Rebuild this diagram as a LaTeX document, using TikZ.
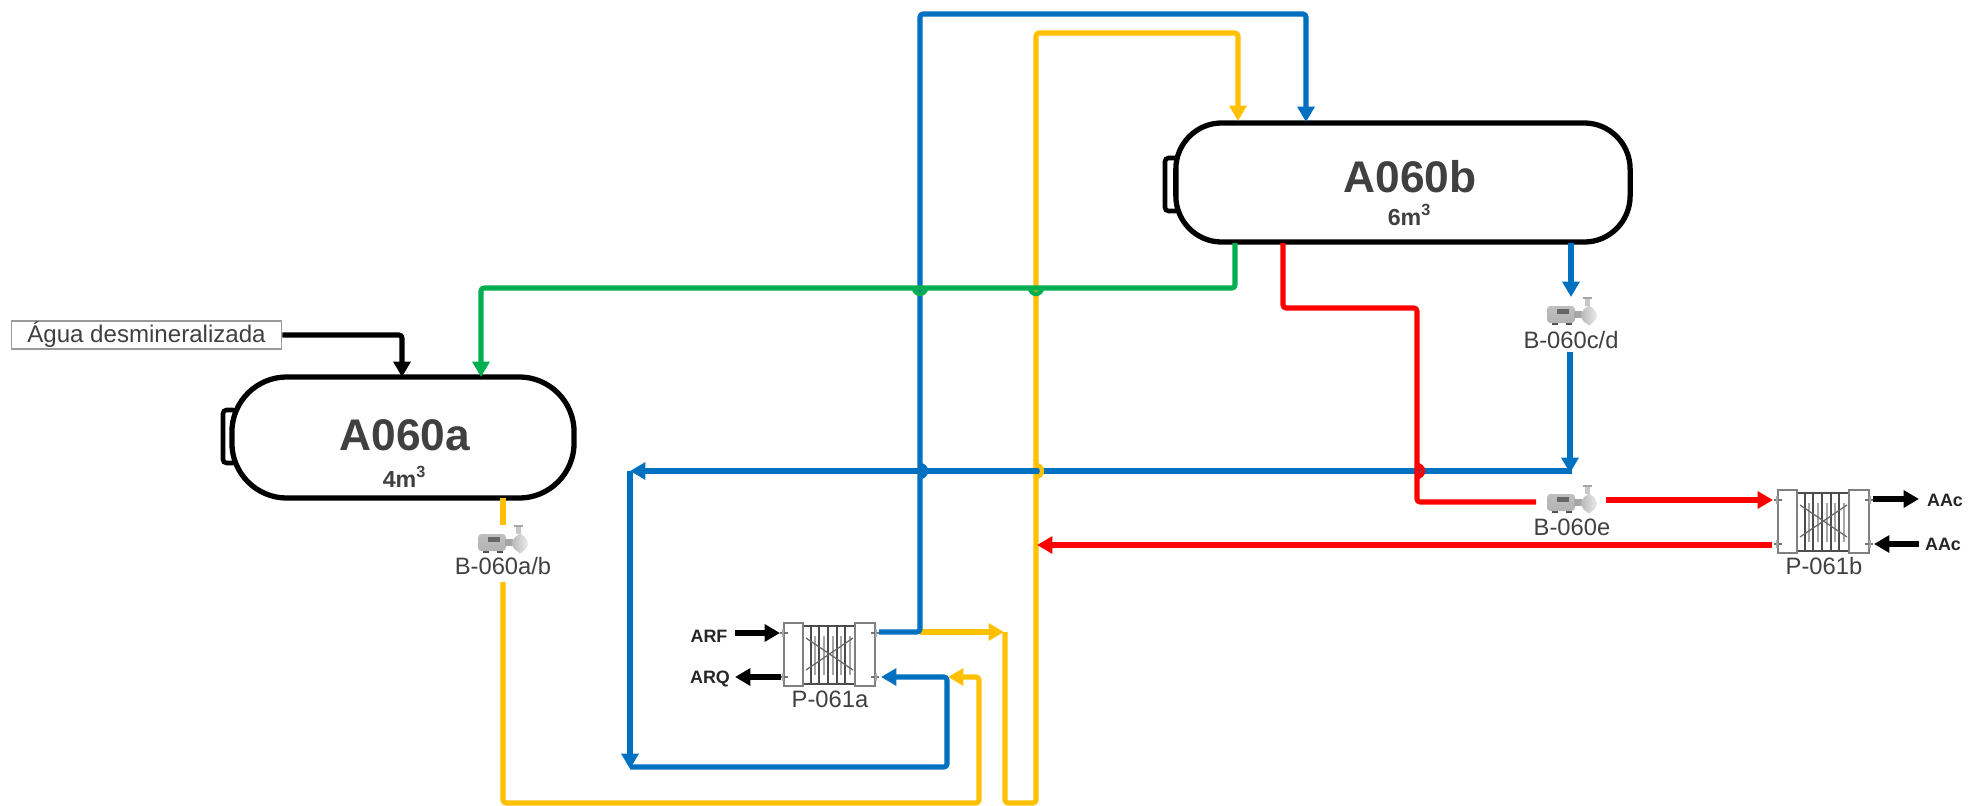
\documentclass[tikz,border=0pt]{standalone}
\usepackage{fontspec}
\setmainfont{Liberation Sans}
\usetikzlibrary{arrows.meta,calc}
\definecolor{cblue}{HTML}{0070C0}
\definecolor{cyellow}{HTML}{FFC000}
\definecolor{cgreen}{HTML}{00B050}
\definecolor{cred}{HTML}{FF0000}
\definecolor{ctext}{HTML}{404040}
\tikzset{
  pipe/.style={line width=1.45pt,rounded corners=0.9pt},
  flow/.style={pipe,-{Triangle[length=4.4pt,width=4.8pt]}},
  bump/.style={line width=1.2pt},
  tank/.style={draw=black,line width=1.5pt,fill=white,inner sep=0pt},
  nub/.style={draw=black,line width=1.3pt,fill=white,rounded corners=1pt},
  tagname/.style={text=ctext,inner sep=0pt,font=\bfseries\fontsize{12.6pt}{14pt}\selectfont},
  tagvol/.style={text=ctext,inner sep=0pt,font=\bfseries\fontsize{6.6pt}{8pt}\selectfont},
  eqlabel/.style={text=ctext,inner sep=0pt,font=\fontsize{6.75pt}{8pt}\selectfont},
  streamlabel/.style={text=black!85,inner sep=0pt,font=\bfseries\fontsize{5.1pt}{6pt}\selectfont},
  srcbox/.style={draw=black!40,line width=0.4pt,fill=white,minimum width=2.7cm,minimum height=0.28cm,inner sep=0pt,text=ctext,font=\fontsize{6.85pt}{8pt}\selectfont},
  pumpicon/.pic={
    \fill[black!70] (5,24) rectangle (11,28);
    \fill[black!70] (19,24) rectangle (25,28);
    \shade[top color=black!25,middle color=black!70,bottom color=black!30,rounded corners=1pt] (0,9) rectangle (28,26);
    \fill[black!60] (10,12) rectangle (22,17);
    \fill[black!35] (27,14) rectangle (35,21);
    \shade[left color=black!28,right color=black!8,rounded corners=3pt] (34,9) rectangle (50,28);
    \fill[black!22] (38,2) rectangle (43,9);
    \fill[black!35] (36,0) rectangle (45,1.5);
  },
  hxicon/.pic={
    \foreach \xl in {31,40,49,57,66}{\draw[black!35,line width=0.7pt] (\xl,13)--(\xl,52);}
    \foreach \xl in {27,35,44,53,61}{\draw[black!70,line width=0.4pt] (\xl,3)--(\xl,61);}
    \draw[black!70,line width=0.4pt] (19,3)--(71,3) (19,61)--(71,61);
    \draw[black!60,line width=0.35pt] (22,15)--(69,47) (22,47)--(69,15);
    \draw[black!50,line width=0.6pt,fill=white] (0,0) rectangle (19,63);
    \draw[black!50,line width=0.6pt,fill=white] (71,0) rectangle (91,63);
    \draw[black!55,line width=0.35pt] (-4,10)--(4,10) (-4,54)--(4,54) (87,10)--(95,10) (87,54)--(95,54);
    \draw[black!35,line width=0.35pt] (-1,6)--(-1,14) (-1,50)--(-1,58) (92,6)--(92,14) (92,50)--(92,58);
  }
}
\begin{document}
\begin{tikzpicture}[x=0.01cm,y=-0.01cm]
\useasboundingbox[fill=white] (0,0) rectangle (1968,806);

% equipment
\draw[nub] (223,410) rectangle (236,463);
\draw[nub] (1165,158) rectangle (1179,211);
\node[tank,rounded corners=0.55cm,minimum width=3.42cm,minimum height=1.21cm] (tankA) at (403,437.5) {};
\node[tank,rounded corners=0.46cm,minimum width=4.54cm,minimum height=1.19cm] (tankB) at (1403,182.5) {};
\node[tagname] (nameA) at (405,435) {A060a};
\node[tagvol] (volA) at (405,477) {4m\textsuperscript{3}};
\node[tagname] (nameB) at (1410,177) {A060b};
\node[tagvol] (volB) at (1410,215) {6m\textsuperscript{3}};

\node[srcbox] (agua) at (146.5,335) {Água desmineralizada};

\pic (pumpA) at (478,525) {pumpicon};
\pic (pumpC) at (1547,297) {pumpicon};
\pic (pumpE) at (1547,485) {pumpicon};
\pic (hxA) at (784,623) {hxicon};
\pic (hxB) at (1778,490) {hxicon};
\node[eqlabel] (lblA) at (503,566) {B-060a/b};
\node[eqlabel] (lblC) at (1571,340) {B-060c/d};
\node[eqlabel] (lblE) at (1572,527) {B-060e};
\node[eqlabel] (lblHA) at (830,699) {P-061a};
\node[eqlabel] (lblHB) at (1824,566) {P-061b};

\node[streamlabel] (arf) at (709,636) {ARF};
\node[streamlabel] (arq) at (710,679) {ARQ};
\node[streamlabel] (aac1) at (1945,500) {AAc};
\node[streamlabel] (aac2) at (1943,544) {AAc};

% end points
\coordinate (aIn1) at (402,377);
\coordinate (aIn2) at (481,377);
\coordinate (aOut) at (503,498);
\coordinate (aPumpIn) at (503,525);
\coordinate (aPumpOut) at (503,582);
\coordinate (aBot) at (979,803);
\coordinate (bInY) at (1238,121);
\coordinate (bInB) at (1306,122);
\coordinate (bOutG) at (1235,243);
\coordinate (bOutR) at (1283,243);
\coordinate (bOutB) at (1571,243);
\coordinate (cIn) at (1571,297);
\coordinate (cOut) at (1570,352);
\coordinate (mainR) at (1570,473);
\coordinate (mainE) at (1572,471);
\coordinate (mainL) at (630,471);
\coordinate (mainB) at (630,769);
\coordinate (botL) at (630,767);
\coordinate (botR) at (947,767);
\coordinate (haOutT) at (879,632);
\coordinate (haInB) at (881,677);
\coordinate (split) at (920,632);
\coordinate (blueTop) at (920,14);
\coordinate (yTip) at (1004,632);
\coordinate (yBack) at (1005,632);
\coordinate (yTipB) at (948,677);
\coordinate (yBotR) at (1036,803);
\coordinate (yTop) at (1238,33);
\coordinate (redBend) at (1417,308);
\coordinate (eIn) at (1536,502);
\coordinate (eOut) at (1606,500);
\coordinate (hbIn) at (1773,500);
\coordinate (hbOut) at (1772,545);
\coordinate (redTip) at (1037,545);
\coordinate (greenL) at (481,288);
\coordinate (arfS) at (735,633);
\coordinate (arfE) at (780,633);
\coordinate (arqS) at (781,677);
\coordinate (arqE) at (735,677);
\coordinate (aac1S) at (1873,499);
\coordinate (aac1E) at (1919,499);
\coordinate (aac2S) at (1919,544);
\coordinate (aac2E) at (1874,544);
\coordinate (jg1) at (914,288);
\coordinate (jg2) at (1030,288);
\coordinate (jb) at (920,465);
\coordinate (jy) at (1036,465);
\coordinate (jr) at (1417,465);

% yellow lines
\draw[flow,cyellow] (aPumpOut) |- (aBot) |- (yTipB);
\draw[flow,cyellow] (split) -- (yTip);
\draw[flow,cyellow] (yBack) |- (yBotR) |- (yTop) -- (bInY);
\draw[pipe,cyellow] (aOut) -- (aPumpIn);

% blue lines
\draw[flow,cblue] (haOutT) -| (blueTop) -| (bInB);
\draw[flow,cblue] (bOutB) -- (cIn);
\draw[flow,cblue] (cOut) -- (mainR);
\draw[flow,cblue] (mainE) -- (mainL);
\draw[flow,cblue] (mainL) -- (mainB);
\draw[flow,cblue] (botL) -| (botR) |- (haInB);

% red lines
\draw[pipe,cred] (bOutR) |- (redBend) |- (eIn);
\draw[flow,cred] (eOut) -- (hbIn);
\draw[flow,cred] (hbOut) -- (redTip);

% green line
\draw[flow,cgreen] (bOutG) |- (greenL) -- (aIn2);

% black lines
\draw[flow,black] (agua.east) -| (aIn1);
\draw[flow,black] (arfS) -- (arfE);
\draw[flow,black] (arqS) -- (arqE);
\draw[flow,black] (aac1S) -- (aac1E);
\draw[flow,black] (aac2S) -- (aac2E);

% line jumps
\draw[bump,cgreen] (jg1) arc[start angle=180,end angle=0,radius=6];
\draw[bump,cgreen] (jg2) arc[start angle=180,end angle=0,radius=6];
\draw[bump,cblue,fill=cblue] (jb) arc[start angle=-90,end angle=90,radius=6];
\draw[bump,cyellow] (jy) arc[start angle=-90,end angle=90,radius=6];
\draw[bump,cred] (jr) arc[start angle=-90,end angle=90,radius=6];
\end{tikzpicture}
\end{document}
